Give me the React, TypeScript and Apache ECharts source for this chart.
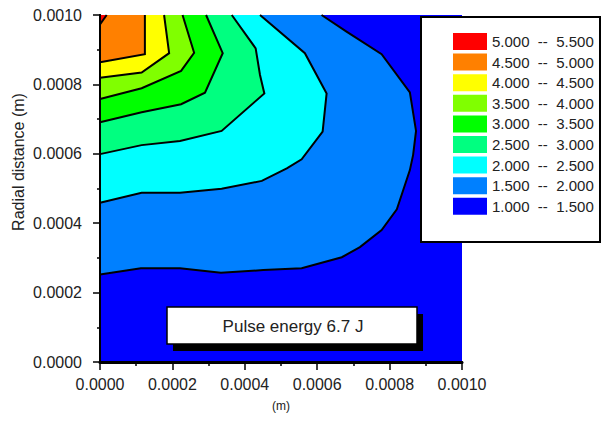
import React, { useEffect, useRef } from "react";
import * as echarts from "echarts";

// ---- data ----
const xTicks = [0, 0.0002, 0.0004, 0.0006, 0.0008, 0.001];
const levelLows = [1.0, 1.5, 2.0, 2.5, 3.0, 3.5, 4.0, 4.5, 5.0];
const levelStep = 0.5;
const levelColors = ["#0000FF", "#0080FF", "#00FFFF", "#00FF80", "#00FF00", "#80FF00", "#FFFF00", "#FF8000", "#FF0000"];

// plot extent (whole 1.0 region)
const plotBounds: number[][] = [[0, 0], [0.001, 0], [0.001, 0.001], [0, 0.001]];
// contour boundaries (x, y in metres), each from top edge to left edge
const contour15: number[][] = [[0.000612, 0.001], [0.000681, 0.000952], [0.000778, 0.000887], [0.000856, 0.000777], [0.000873, 0.000666], [0.000865, 0.000597], [0.000856, 0.000553], [0.00082, 0.00044], [0.000778, 0.00038], [0.000718, 0.000331], [0.000668, 0.000302], [0.000557, 0.00027], [0.000451, 0.000265], [0.000334, 0.000257], [0.000221, 0.00027], [0.000113, 0.00027], [0, 0.000252]];
const contour20: number[][] = [[0.000442, 0.001], [0.000566, 0.00089], [0.000626, 0.000774], [0.000615, 0.000664], [0.000557, 0.000584], [0.000516, 0.000558], [0.000447, 0.000522], [0.000336, 0.000499], [0.000221, 0.000488], [0.000115, 0.000488], [0, 0.000459]];
const contour25: number[][] = [[0.000364, 0.001], [0.00043, 0.000904], [0.000442, 0.000827], [0.000454, 0.000774], [0.000336, 0.000666], [0.000221, 0.000637], [0.000115, 0.000625], [0, 0.000599]];
const contour30: number[][] = [[0.000293, 0.001], [0.000339, 0.00089], [0.00029, 0.000776], [0.000224, 0.000743], [0.000115, 0.00072], [0, 0.000691]];
const contour35: number[][] = [[0.000228, 0.001], [0.00026, 0.000891], [0.000224, 0.000839], [0.000115, 0.000789], [0, 0.000758]];
const contour40: number[][] = [[0.000177, 0.001], [0.000191, 0.00089], [0.000115, 0.000834], [0, 0.000819]];
const contour45: number[][] = [[0.000124, 0.001], [0.000124, 0.000887], [0, 0.000864]];
const contour50: number[][] = [[0.0000185, 0.001], [0, 0.000973]];
const topLeftCorner: number[] = [0, 0.001];

const contours: (number[][] | null)[] = [null, contour15, contour20, contour25, contour30, contour35, contour40, contour45, contour50];

const annotation = "Pulse energy 6.7 J";
const yTitle = "Radial distance (m)";
const xTitle = "(m)";

const FONT = "'Liberation Sans', Arial, Helvetica, sans-serif";

function levelLabel(lo: number) {
  return `${lo.toFixed(3)}  --  ${(lo + levelStep).toFixed(3)}`;
}

export default function App() {
  const ref = useRef<HTMLDivElement>(null);
  useEffect(() => {
    if (!ref.current) return;
    const chart = echarts.init(ref.current, undefined, { renderer: "svg" });

    const series: any[] = levelLows.map((lo, i) => {
      const boundary = contours[i];
      const color = levelColors[i];
      return {
        type: "custom",
        name: levelLabel(lo),
        xAxisIndex: 0,
        yAxisIndex: 0,
        itemStyle: { color },
        data: [[0, 0.001]],
        z: 2 + i,
        renderItem: (_params: any, api: any) => {
          if (!boundary) {
            return {
              type: "polygon",
              shape: { points: plotBounds.map((p) => api.coord(p)) },
              style: { fill: color, stroke: "none" },
            };
          }
          const fillPts = boundary.concat([topLeftCorner]).map((p) => api.coord(p));
          const linePts = boundary.map((p) => api.coord(p));
          return {
            type: "group",
            children: [
              { type: "polygon", shape: { points: fillPts }, style: { fill: color, stroke: "none" } },
              { type: "polyline", shape: { points: linePts }, style: { fill: "none", stroke: "#000", lineWidth: 2 } },
            ],
          };
        },
      };
    });

    const axisLabel = {
      formatter: (v: number) => v.toFixed(4),
      fontSize: 16,
      color: "#222",
      fontFamily: FONT,
    };

    const option: any = {
      animation: false,
      grid: { left: 100, right: 140, top: 15, bottom: 59 },
      xAxis: [
        {
          type: "value",
          min: xTicks[0],
          max: xTicks[xTicks.length - 1],
          interval: 0.0002,
          position: "bottom",
          z: 10,
          axisLine: { lineStyle: { color: "#000", width: 2 } },
          axisTick: { length: 8, lineStyle: { color: "#000", width: 1.5 } },
          minorTick: { show: true, splitNumber: 2, length: 4, lineStyle: { color: "#000", width: 1.5 } },
          splitLine: { show: false },
          axisLabel: { ...axisLabel, margin: 14 },
          name: xTitle,
          nameLocation: "middle",
          nameGap: 38,
          nameTextStyle: { fontSize: 12, color: "#222", fontFamily: FONT },
        },
        {
          type: "value",
          min: 0,
          max: 0.001,
          position: "top",
          z: 10,
          axisLine: { lineStyle: { color: "#000", width: 3 } },
          axisTick: { show: false },
          axisLabel: { show: false },
          splitLine: { show: false },
        },
      ],
      yAxis: [
        {
          type: "value",
          min: 0,
          max: 0.001,
          interval: 0.0002,
          position: "left",
          z: 10,
          axisLine: { lineStyle: { color: "#000", width: 2 } },
          axisTick: { length: 7, lineStyle: { color: "#000", width: 1.5 } },
          minorTick: { show: true, splitNumber: 2, length: 3, lineStyle: { color: "#000", width: 1.5 } },
          splitLine: { show: false },
          axisLabel: { ...axisLabel, margin: 18 },
        },
        {
          type: "value",
          min: 0,
          max: 0.001,
          position: "right",
          z: 10,
          axisLine: { lineStyle: { color: "#000", width: 2 } },
          axisTick: { show: false },
          axisLabel: { show: false },
          splitLine: { show: false },
        },
      ],
      legend: {
        orient: "vertical",
        left: 453,
        top: 33,
        padding: 0,
        z: 60,
        icon: "rect",
        itemWidth: 34,
        itemHeight: 17,
        itemGap: 3.6,
        selectedMode: false,
        data: levelLows.map((lo) => levelLabel(lo)).reverse(),
        textStyle: { fontSize: 15, color: "#222", fontFamily: FONT, lineHeight: 17, padding: [0, 0, 0, 0] },
      },
      graphic: [
        {
          type: "rect",
          z: 50,
          shape: { x: 421, y: 17, width: 179, height: 225 },
          style: { fill: "#fff", stroke: "#000", lineWidth: 2 },
        },
        {
          type: "rect",
          z: 40,
          shape: { x: 173, y: 314, width: 250, height: 37 },
          style: { fill: "#000" },
        },
        {
          type: "rect",
          z: 41,
          shape: { x: 167, y: 307, width: 250, height: 37 },
          style: { fill: "#fff", stroke: "#000", lineWidth: 1.5 },
        },
        {
          type: "text",
          z: 42,
          x: 293,
          y: 326,
          style: { text: annotation, fontSize: 17, fill: "#222", fontFamily: FONT, textAlign: "center", textVerticalAlign: "middle" },
        },
        {
          type: "text",
          z: 42,
          x: 18,
          y: 162,
          rotation: Math.PI / 2,
          style: { text: yTitle, fontSize: 16, fill: "#222", fontFamily: FONT, textAlign: "center", textVerticalAlign: "middle" },
        },
      ],
      series,
    };
    chart.setOption(option);
    return () => chart.dispose();
  }, []);
  return <div ref={ref} style={{ width: 602, height: 421, position: "absolute", left: 0, top: 0 }} />;
}
